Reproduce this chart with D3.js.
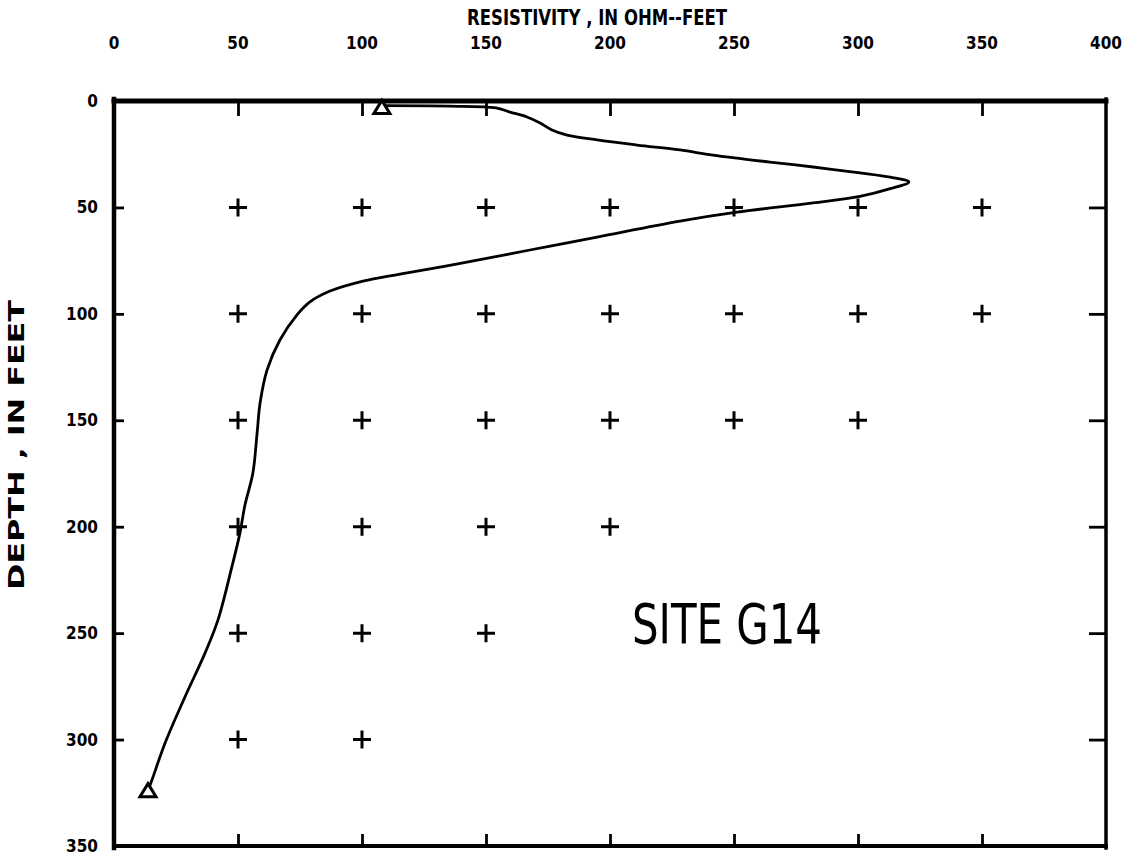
<!DOCTYPE html>
<html>
<head>
<meta charset="utf-8">
<script src="https://cdn.jsdelivr.net/npm/d3@7"></script>
<style>
  html, body { margin: 0; padding: 0; background: #fff; }
  svg { display: block; }
  .lbl { font-family: "DejaVu Sans Condensed", "DejaVu Sans", sans-serif; font-weight: bold; fill: #000; }
</style>
</head>
<body>
<svg id="chart" width="1136" height="857"></svg>
<script>
// Axis ticks
const resTicks = [0, 50, 100, 150, 200, 250, 300, 350, 400];
const depthTicks = [0, 50, 100, 150, 200, 250, 300, 350];

// Reference "+" marks: one row per depth, running from 50 ohm-ft up to the row's last value
const gridDepth = [50, 100, 150, 200, 250, 300];
const gridLastRes = [350, 350, 300, 200, 150, 100];

// Resistivity profile (ohm-feet) against depth (feet)
const profileRes = [108, 135, 154, 159.7, 166.5, 171.8, 176.6, 182.7, 194.8, 210.9, 228.2, 241.5, 264.5, 281.9, 300.8, 313, 320.5,
                    313, 300.8, 281.9, 251.2, 228.2, 194.8, 167.7, 140.7, 115.3, 100.4, 87.1, 79, 73.8, 66.9, 61.7, 58.9, 57.7, 56,
                    52.8, 50.8, 47.5, 41.9, 36.7, 28.6, 20.6, 15.3, 13.7];
const profileDepth = [2.2, 2.4, 3.2, 5.2, 7.5, 10.3, 13.6, 16, 18.3, 20.7, 23, 25.4, 28.7, 31, 33.8, 35.8, 38,
                      41.2, 44.8, 47.9, 52.2, 56.4, 63.9, 70, 76.1, 81.3, 84.6, 89.3, 94.4, 100.5, 112.3, 126.4, 141.9, 156, 174.8,
                      189.8, 202.9, 219, 243.9, 259.4, 280, 301.6, 319, 324];

// Profile end points (triangles)
const endRes = [108, 13.7];
const endDepth = [3, 324];

const svg = d3.select("#chart");

const x = d3.scaleLinear().domain([0, 400]).range([114, 1106]);
const y = d3.scaleLinear().domain([0, 350]).range([101, 846]);

// Frame: heavier top and left edges
const edges = [
  { x1: x(0), y1: y(0), x2: x(400), y2: y(0), w: 5 },
  { x1: x(0), y1: y(0) - 2, x2: x(0), y2: y(350) + 2, w: 4.5 },
  { x1: x(400), y1: y(0) - 2, x2: x(400), y2: y(350) + 2, w: 3.5 },
  { x1: x(0), y1: y(350), x2: x(400), y2: y(350), w: 4 }
];
svg.append("g").selectAll("line").data(edges).join("line")
  .attr("x1", d => d.x1).attr("y1", d => d.y1)
  .attr("x2", d => d.x2).attr("y2", d => d.y2)
  .attr("stroke", "#000").attr("stroke-width", d => d.w).attr("stroke-linecap", "square");

// Inward ticks on all four sides
const axTop = svg.append("g").attr("transform", `translate(0,${y(0)})`)
  .call(d3.axisBottom(x).tickValues(resTicks.slice(1, -1)).tickSize(15).tickFormat(""));
const axBottom = svg.append("g").attr("transform", `translate(0,${y(350)})`)
  .call(d3.axisTop(x).tickValues(resTicks.slice(1, -1)).tickSize(12).tickFormat(""));
const axLeft = svg.append("g").attr("transform", `translate(${x(0)},0)`)
  .call(d3.axisRight(y).tickValues(depthTicks.slice(1, -1)).tickSize(10).tickFormat(""));
const axRight = svg.append("g").attr("transform", `translate(${x(400)},0)`)
  .call(d3.axisLeft(y).tickValues(depthTicks.slice(1, -1)).tickSize(17).tickFormat(""));
[axTop, axBottom, axLeft, axRight].forEach(g => {
  g.select(".domain").remove();
  g.selectAll(".tick line").attr("stroke", "#000").attr("stroke-width", 2.8);
});

// Tick labels
svg.append("g").selectAll("text").data(resTicks).join("text")
  .attr("class", "lbl")
  .attr("x", d => x(d)).attr("y", 49)
  .attr("text-anchor", "middle")
  .attr("font-size", 17)
  .text(d => d);

svg.append("g").selectAll("text").data(depthTicks).join("text")
  .attr("class", "lbl")
  .attr("x", 98).attr("y", d => y(d) + 6)
  .attr("text-anchor", "end")
  .attr("font-size", 17)
  .text(d => d);

// Axis titles
svg.append("text").attr("class", "lbl")
  .attr("x", 597).attr("y", 25)
  .attr("text-anchor", "middle")
  .attr("font-size", 21)
  .attr("textLength", 260).attr("lengthAdjust", "spacingAndGlyphs")
  .text("RESISTIVITY , IN OHM--FEET");

svg.append("text").attr("class", "lbl")
  .attr("transform", "translate(24,445) rotate(-90)")
  .attr("text-anchor", "middle")
  .attr("font-size", 22)
  .attr("textLength", 290).attr("lengthAdjust", "spacingAndGlyphs")
  .text("DEPTH , IN FEET");

// Grid of "+" marks
const crosses = [];
gridDepth.forEach((d, i) => {
  for (let r = 50; r <= gridLastRes[i]; r += 50) crosses.push([r, d]);
});
svg.append("g").selectAll("path").data(crosses).join("path")
  .attr("d", d => `M${x(d[0]) - 9},${y(d[1])}H${x(d[0]) + 9}M${x(d[0])},${y(d[1]) - 9}V${y(d[1]) + 9}`)
  .attr("stroke", "#000").attr("stroke-width", 3).attr("fill", "none");

// Profile curve
const pts = profileRes.map((r, i) => [r, profileDepth[i]]);
svg.append("path")
  .datum(pts)
  .attr("d", d3.line().x(d => x(d[0])).y(d => y(d[1])).curve(d3.curveCatmullRom.alpha(0.5)))
  .attr("fill", "none").attr("stroke", "#000").attr("stroke-width", 2.8)
  .attr("stroke-linejoin", "round");

// End-point triangles
svg.append("g").selectAll("path").data(endRes.map((r, i) => [r, endDepth[i]])).join("path")
  .attr("transform", d => `translate(${x(d[0])},${y(d[1])})`)
  .attr("d", "M0,-7L8,6L-8,6Z")
  .attr("fill", "#fff").attr("stroke", "#000").attr("stroke-width", 3);

// Site label
svg.append("text")
  .attr("x", 632).attr("y", 643)
  .attr("font-family", "'DejaVu Sans Condensed', 'DejaVu Sans', sans-serif")
  .attr("font-size", 55)
  .attr("textLength", 190).attr("lengthAdjust", "spacingAndGlyphs")
  .attr("fill", "#000")
  .text("SITE G14");
</script>
</body>
</html>
